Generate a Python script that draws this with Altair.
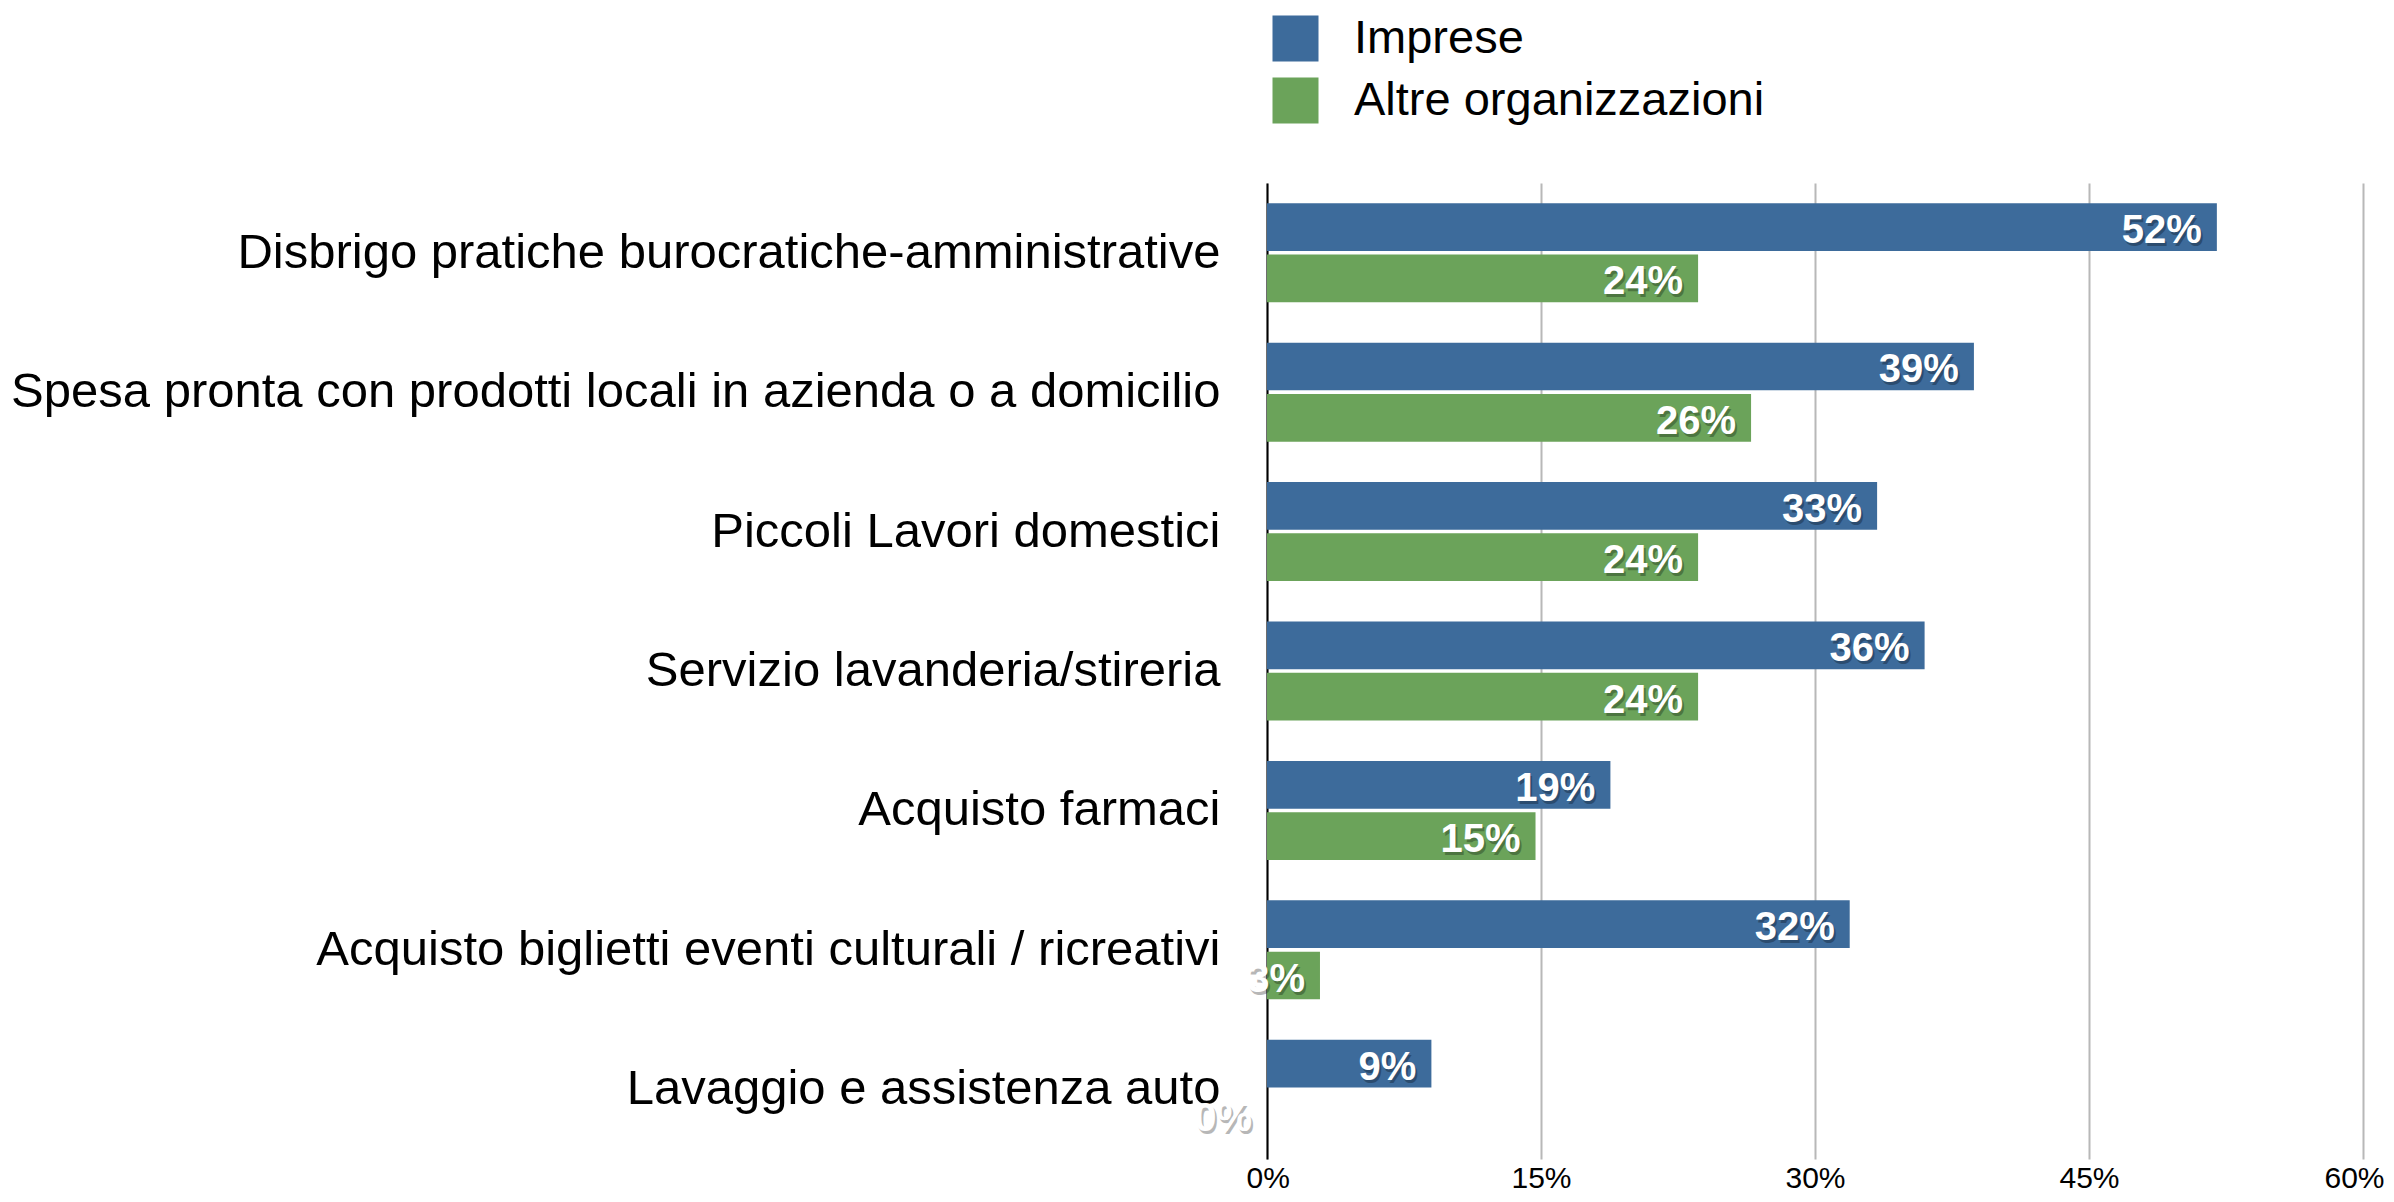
import altair as alt
import pandas as pd

categories = [
    "Disbrigo pratiche burocratiche-amministrative",
    "Spesa pronta con prodotti locali in azienda o a domicilio",
    "Piccoli Lavori domestici",
    "Servizio lavanderia/stireria",
    "Acquisto farmaci",
    "Acquisto biglietti eventi culturali / ricreativi",
    "Lavaggio e assistenza auto",
]
series = ["Imprese", "Altre organizzazioni"]
imprese = [52.0, 38.7, 33.4, 36.0, 18.8, 31.9, 9.0]
altre = [23.6, 26.5, 23.6, 23.6, 14.7, 2.9, 0.0]
x_ticks = [0, 15, 30, 45, 60]
colors = ["#3d6b9b", "#6ba35a"]

rows = []
for c, a, b in zip(categories, imprese, altre):
    rows.append({"cat": c, "serie": series[0], "val": a})
    rows.append({"cat": c, "serie": series[1], "val": b})
df = pd.DataFrame(rows)
df["lab"] = df["val"].round(0).astype(int).astype(str) + "%"

FONT = "Liberation Sans"

y_enc = alt.Y(
    "cat:N",
    sort=categories,
    scale=alt.Scale(paddingInner=0.29, paddingOuter=0.145),
    axis=alt.Axis(
        title=None, ticks=False, domain=True, domainColor="#000000", domainWidth=2,
        labelFontSize=49, labelFont=FONT, labelColor="#000000", labelPadding=47,
        labelLimit=1300, grid=False,
    ),
)
yoff = alt.YOffset("serie:N", sort=series, scale=alt.Scale(paddingInner=0.07, paddingOuter=0))
x_enc = alt.X(
    "val:Q",
    scale=alt.Scale(domain=[0, 60], nice=False),
    axis=alt.Axis(
        title=None, values=x_ticks, labelExpr="datum.value + '%'", domain=False, ticks=False,
        grid=True, gridColor="#b8b8b8", gridWidth=2, labelFontSize=30, labelFont=FONT,
        labelColor="#000000", labelPadding=4, labelFlush=True, labelFlushOffset=21,
    ),
)

bars = alt.Chart(df).mark_bar(strokeWidth=0).encode(
    y=y_enc,
    yOffset=yoff,
    x=x_enc,
    color=alt.Color(
        "serie:N",
        sort=series,
        scale=alt.Scale(domain=series, range=colors),
        legend=alt.Legend(
            title=None, orient="none", legendX=5, legendY=-168, symbolType="square",
            symbolSize=2116, symbolStrokeWidth=0, symbolOpacity=1, labelFontSize=47,
            labelFont=FONT, labelColor="#000000", labelOffset=35, rowPadding=14,
            labelLimit=800,
        ),
    ),
)

shadow = alt.Chart(df).mark_text(
    align="right", baseline="middle", dx=-13, dy=7, font=FONT, fontWeight="bold",
    fontSize=40, color="#000000", opacity=0.28,
).encode(y=alt.Y("cat:N", sort=categories), yOffset=yoff, x="val:Q", text="lab:N")

labels = alt.Chart(df).mark_text(
    align="right", baseline="middle", dx=-15, dy=4, font=FONT, fontWeight="bold",
    fontSize=40, color="#ffffff",
).encode(y=alt.Y("cat:N", sort=categories), yOffset=yoff, x="val:Q", text="lab:N")

chart = (
    alt.layer(bars, shadow, labels)
    .properties(
        width=1096, height=976,
        autosize=alt.AutoSizeParams(type="none"),
        padding={"left": 1259, "top": 175, "right": 23, "bottom": 35},
        background="#ffffff",
    )
    .configure_view(strokeWidth=0)
)

chart.save("out.html", embed_options={"renderer": "svg", "actions": False})
